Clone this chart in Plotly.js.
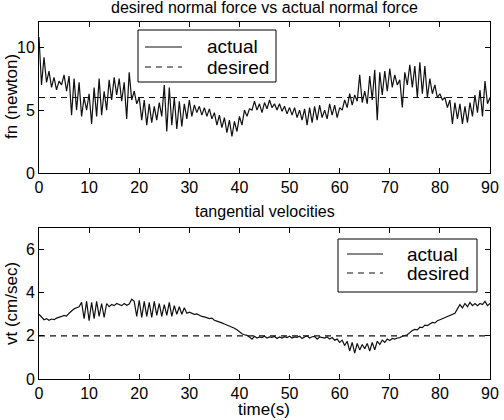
<!DOCTYPE html>
<html>
<head>
<meta charset="utf-8">
<script src="https://cdn.plot.ly/plotly-3.0.1.min.js"></script>
<style>html,body{margin:0;padding:0;background:#fff;}#chart{width:504px;height:420px;}</style>
</head>
<body>
<div id="chart"></div>
<script>
// time step of the sampled series (seconds)
var timeStep = 0.5;

// normal force, actual (newton), sampled every 0.5 s from t=0 to t=90
var fnActual = [
10.8,7.0,9.2,7.2,8.1,6.8,7.6,6.6,7.3,7.0,
7.8,6.5,7.7,4.6,7.5,5.0,7.2,4.5,6.0,5.0,
6.3,3.9,6.8,4.5,7.5,4.6,6.5,5.0,7.4,5.8,
7.6,6.2,7.5,5.7,7.2,4.3,8.0,5.8,6.5,5.5,
6.0,4.2,5.8,3.8,5.5,4.0,5.3,4.2,5.6,4.5,
7.0,3.3,6.8,3.8,6.0,3.5,5.7,3.7,5.5,4.3,
5.8,4.5,5.4,4.8,5.3,4.6,5.2,4.5,5.1,4.3,
4.8,3.8,4.6,3.6,4.4,3.2,4.2,2.9,4.1,3.3,
4.5,3.8,5.0,4.5,5.1,5.0,5.7,5.0,5.5,4.8,
5.6,5.1,5.8,5.2,5.5,5.0,5.5,4.9,5.3,4.7,
5.2,4.6,5.2,4.4,5.0,4.2,5.1,3.8,5.2,4.0,
5.3,4.2,5.4,4.4,5.0,4.3,5.5,4.6,5.4,4.4,
5.2,5.0,5.8,5.2,6.3,5.4,6.2,5.7,7.8,5.6,
6.5,5.5,7.7,5.8,8.2,4.2,8.0,6.2,8.1,6.5,
8.3,6.8,7.8,7.0,7.4,5.2,8.0,7.0,8.6,6.8,
8.5,6.0,8.8,6.3,8.5,6.0,7.5,6.3,7.0,6.0,
6.3,5.8,6.0,5.2,5.8,3.9,5.6,4.3,5.5,3.9,
5.3,4.0,5.6,4.5,6.2,4.8,6.6,4.5,7.3,5.5,
6.0
];
var fnDesired = [6, 6];

// tangential velocity, actual (cm/sec), sampled every 0.5 s from t=0 to t=90
var vtActual = [
3.0,2.85,2.75,2.8,2.72,2.78,2.75,2.82,2.85,2.9,
2.95,2.92,3.05,3.15,3.25,3.3,3.35,3.55,2.8,3.6,
2.7,3.55,2.8,3.6,2.9,3.5,2.85,3.5,3.35,3.45,
3.4,3.5,3.45,3.4,3.5,3.42,3.48,3.7,3.6,2.9,
3.65,2.85,3.6,2.9,3.55,2.85,3.6,2.95,3.5,2.9,
3.45,2.95,3.55,2.9,3.4,3.0,3.35,3.0,3.3,3.05,
3.1,3.05,3.0,3.02,2.95,2.9,2.88,2.85,2.8,2.82,
2.72,2.68,2.65,2.6,2.55,2.5,2.48,2.4,2.35,2.28,
2.18,2.1,2.05,2.02,1.95,1.85,1.98,1.9,1.95,1.92,
1.98,1.9,1.95,1.93,1.97,1.88,1.95,1.9,1.96,1.92,
1.98,1.9,1.95,1.93,1.98,1.88,1.95,2.0,1.9,1.96,
1.98,1.85,1.95,1.92,1.9,1.95,1.85,1.92,1.8,1.85,
1.7,1.8,1.55,1.75,1.3,1.7,1.2,1.65,1.35,1.6,
1.4,1.65,1.3,1.7,1.35,1.75,1.6,1.8,1.7,1.85,
1.78,1.88,1.85,1.9,1.92,1.98,2.0,2.05,2.15,2.25,
2.3,2.28,2.4,2.38,2.5,2.48,2.55,2.62,2.6,2.7,
2.75,2.8,2.85,2.9,2.95,3.0,3.05,3.25,3.45,3.3,
3.5,3.35,3.55,3.4,3.5,3.4,3.5,3.45,3.6,3.4,
3.5
];
var vtDesired = [2, 2];
var desiredTimes = [0, 90];

var xTicks = [0,10,20,30,40,50,60,70,80,90];
var fnTicks = [0,5,10];
var vtTicks = [0,2,4,6];

var topTitle = 'desired normal force vs actual normal force';
var bottomTitle = 'tangential velocities';
var xLabel = 'time(s)';
var fnLabel = 'fn (newton)';
var vtLabel = 'vt (cm/sec)';
var seriesNames = ['actual', 'desired'];

function times(arr) { return arr.map(function (_, i) { return i * timeStep; }); }

var FONT = 'Liberation Sans, Arial, Helvetica, sans-serif';
var W = 504, H = 420, ML = 39, MR = 14, MT = 22, MB = 41;
function px(x) { return (x - ML) / (W - ML - MR); }
function py(y) { return (H - MB - y) / (H - MT - MB); }

var ACTUAL_LINE = {color: '#111', width: 1.2};
var DESIRED_LINE = {color: '#111', width: 1.1, dash: '6px,5px'};

var traces = [
  {x: times(fnActual), y: fnActual, xaxis: 'x', yaxis: 'y', type: 'scatter', mode: 'lines',
   name: seriesNames[0], line: ACTUAL_LINE},
  {x: desiredTimes, y: fnDesired, xaxis: 'x', yaxis: 'y', type: 'scatter', mode: 'lines',
   name: seriesNames[1], line: DESIRED_LINE},
  {x: times(vtActual), y: vtActual, xaxis: 'x2', yaxis: 'y2', type: 'scatter', mode: 'lines',
   name: seriesNames[0], line: ACTUAL_LINE},
  {x: desiredTimes, y: vtDesired, xaxis: 'x2', yaxis: 'y2', type: 'scatter', mode: 'lines',
   name: seriesNames[1], line: DESIRED_LINE}
];

function xAxis(anchor) {
  return {
    range: [0, 90], tickvals: xTicks, ticks: 'inside', ticklen: 5, tickcolor: '#000',
    showline: true, linecolor: '#000', linewidth: 1, mirror: 'ticks', showgrid: false,
    zeroline: false, anchor: anchor, domain: [0, 1],
    tickfont: {family: FONT, size: 16, color: '#000'}
  };
}
function yAxis(range, ticks, domain, anchor) {
  return {
    range: range, tickvals: ticks, ticks: 'inside', ticklen: 5, tickcolor: '#000',
    showline: true, linecolor: '#000', linewidth: 1, mirror: 'ticks', showgrid: false,
    zeroline: false, domain: domain, anchor: anchor,
    tickfont: {family: FONT, size: 16, color: '#000'}
  };
}

// hand-drawn legend boxes (pixel geometry converted to paper coordinates)
function legendBox(left, top, right, bottom, sampleL, sampleR, textX, yA, yD) {
  var shapes = [
    {type: 'rect', xref: 'paper', yref: 'paper', x0: px(left), x1: px(right), y0: py(bottom), y1: py(top),
     fillcolor: '#fff', line: {color: '#000', width: 1}, layer: 'above'},
    {type: 'line', xref: 'paper', yref: 'paper', x0: px(sampleL), x1: px(sampleR), y0: py(yA), y1: py(yA),
     line: ACTUAL_LINE, layer: 'above'},
    {type: 'line', xref: 'paper', yref: 'paper', x0: px(sampleL), x1: px(sampleR), y0: py(yD), y1: py(yD),
     line: DESIRED_LINE, layer: 'above'}
  ];
  var anns = [
    {text: seriesNames[0], xref: 'paper', yref: 'paper', x: px(textX), y: py(yA), showarrow: false,
     xanchor: 'left', yanchor: 'middle', font: {family: FONT, size: 19, color: '#000'}},
    {text: seriesNames[1], xref: 'paper', yref: 'paper', x: px(textX), y: py(yD), showarrow: false,
     xanchor: 'left', yanchor: 'middle', font: {family: FONT, size: 19, color: '#000'}}
  ];
  return {shapes: shapes, anns: anns};
}
var leg1 = legendBox(138, 30, 276, 82, 145, 182, 205, 47, 67);
var leg2 = legendBox(338, 239, 477, 292, 347, 383, 405, 254, 273);

var layout = {
  width: W, height: H,
  margin: {l: ML, r: MR, t: MT, b: MB},
  paper_bgcolor: '#fff', plot_bgcolor: '#fff',
  showlegend: false,
  xaxis: xAxis('y'),
  yaxis: yAxis([0, 12], fnTicks, [0.577, 1], 'x'),
  xaxis2: xAxis('y2'),
  yaxis2: yAxis([0, 7], vtTicks, [0, 0.423], 'x2'),
  shapes: leg1.shapes.concat(leg2.shapes),
  annotations: [
    {text: topTitle, xref: 'paper', yref: 'paper', x: 0.5, y: py(8), showarrow: false,
     xanchor: 'center', yanchor: 'middle', font: {family: FONT, size: 16, color: '#000'}},
    {text: bottomTitle, xref: 'paper', yref: 'paper', x: 0.5, y: py(211), showarrow: false,
     xanchor: 'center', yanchor: 'middle', font: {family: FONT, size: 16, color: '#000'}},
    {text: xLabel, xref: 'paper', yref: 'paper', x: px(264), y: py(409), showarrow: false,
     xanchor: 'center', yanchor: 'middle', font: {family: FONT, size: 17, color: '#000'}},
    {text: fnLabel, xref: 'paper', yref: 'paper', x: px(11), y: py(97), showarrow: false,
     textangle: -90, xanchor: 'center', yanchor: 'middle', font: {family: FONT, size: 17, color: '#000'}},
    {text: vtLabel, xref: 'paper', yref: 'paper', x: px(11), y: py(304), showarrow: false,
     textangle: -90, xanchor: 'center', yanchor: 'middle', font: {family: FONT, size: 17, color: '#000'}}
  ].concat(leg1.anns, leg2.anns)
};

Plotly.newPlot('chart', traces, layout, {staticPlot: true, displayModeBar: false});
</script>
</body>
</html>
